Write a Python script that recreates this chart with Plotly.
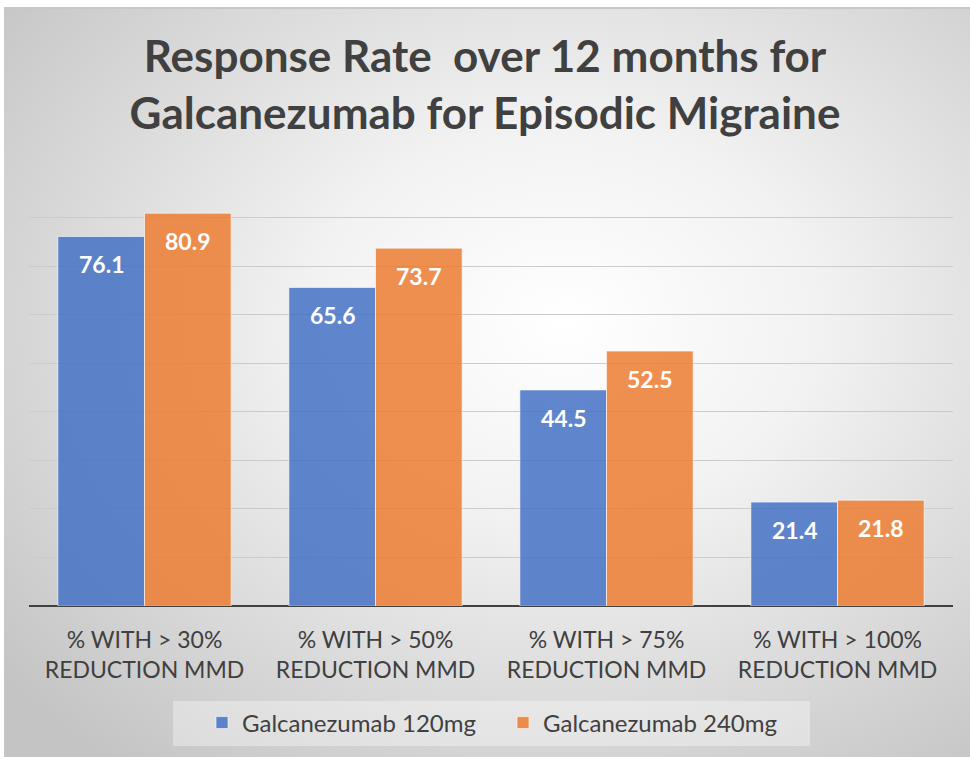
import base64
import plotly.graph_objects as go

categories = ["% WITH > 30%<br>REDUCTION MMD", "% WITH > 50%<br>REDUCTION MMD",
              "% WITH > 75%<br>REDUCTION MMD", "% WITH > 100%<br>REDUCTION MMD"]
series_names = ["Galcanezumab 120mg", "Galcanezumab 240mg"]
values_120 = [76.1, 65.6, 44.5, 21.4]
values_240 = [80.9, 73.7, 52.5, 21.8]
colors = ["rgba(68,114,196,0.85)", "rgba(237,125,49,0.85)"]

W, H = 970, 757
ML, MR, MT, MB = 29, 17, 169, 151
pw, ph = W - ML - MR, H - MT - MB


def px_x(px):
    return (px - ML) / pw


def px_y(py):
    return (H - MB - py) / ph


svg = """<svg xmlns='http://www.w3.org/2000/svg' width='966' height='750' preserveAspectRatio='none'>
<defs><radialGradient id='g' cx='0.58' cy='0.42' r='0.75' fx='0.58' fy='0.42'>
<stop offset='0' stop-color='#ffffff'/><stop offset='0.35' stop-color='#f2f2f2'/>
<stop offset='1' stop-color='#c4c4c4'/></radialGradient></defs>
<rect width='966' height='750' fill='url(#g)'/>
<rect x='0' y='0' width='966' height='2' fill='#c8c8c8'/>
</svg>"""
src = "data:image/svg+xml;base64," + base64.b64encode(svg.encode()).decode()

fig = go.Figure()
for name, vals, col in zip(series_names, [values_120, values_240], colors):
    fig.add_trace(go.Bar(
        x=categories, y=vals, name=name,
        marker=dict(color=col, line=dict(color="rgba(255,255,255,0.6)", width=1)),
        hoverinfo="skip",
    ))

# data labels
cat_px = pw / len(categories)
offs = [-0.1875 * cat_px, 0.1875 * cat_px]
for vals, dx in zip([values_120, values_240], offs):
    for c, v in zip(categories, vals):
        fig.add_annotation(x=c, y=v, xref="x", yref="y", text=f"{v:.1f}",
                           showarrow=False, xshift=dx, yshift=-28,
                           font=dict(family="Lato", size=23, color="white", weight="bold"))

fig.add_layout_image(dict(
    source=src, xref="paper", yref="paper",
    x=px_x(4), y=px_y(7), sizex=966 / pw, sizey=750 / ph,
    xanchor="left", yanchor="top", sizing="stretch", layer="below"))

# legend backdrop box
fig.add_shape(type="rect", xref="paper", yref="paper",
              x0=px_x(173), x1=px_x(810), y0=px_y(746), y1=px_y(701),
              fillcolor="rgba(255,255,255,0.35)", line=dict(width=0), layer="below")

fig.update_layout(
    width=W, height=H,
    margin=dict(l=ML, r=MR, t=MT, b=MB),
    paper_bgcolor="white", plot_bgcolor="rgba(0,0,0,0)",
    barmode="group", bargap=0.25, bargroupgap=0,
    title=dict(text="Response Rate  over 12 months for<br>Galcanezumab for Episodic Migraine",
               x=0.5, xref="container", y=1 - 72 / H, yanchor="middle",
               font=dict(family="Lato", size=44, color="#404040", weight="bold")),
    font=dict(family="Lato", color="#404040"),
    xaxis=dict(showgrid=False, tickfont=dict(size=23, color="#404040"),
               showline=False, ticks="", ticklabelstandoff=18),
    yaxis=dict(range=[0, 90], dtick=10, showgrid=True, gridcolor="#cbcbcb", gridwidth=1,
               showticklabels=False, zeroline=True, zerolinecolor="#404040", zerolinewidth=2,
               fixedrange=True),
    legend=dict(orientation="h", x=px_x(503), xanchor="center", y=px_y(723), yanchor="middle",
                bgcolor="rgba(0,0,0,0)", font=dict(size=24, color="#404040"),
                entrywidth=256, entrywidthmode="pixels", itemwidth=30, traceorder="normal"),
    showlegend=True,
)

fig.write_html("out.html", post_script="document.body.style.margin='0';",
               config={"displayModeBar": False})
